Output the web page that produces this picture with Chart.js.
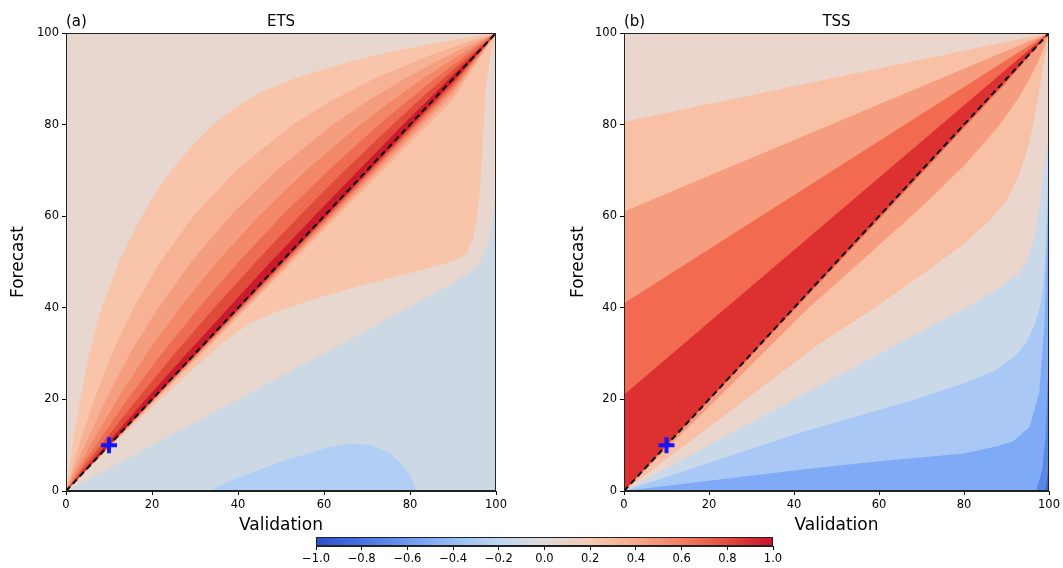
<!DOCTYPE html>
<html>
<head>
<meta charset="utf-8">
<script src="https://cdn.jsdelivr.net/npm/chart.js@4.4.0/dist/chart.umd.min.js"></script>
<style>
  body { margin: 0; background: #fff; }
  #wrap { position: relative; width: 1063px; height: 568px; overflow: hidden; }
  canvas { position: absolute; }
</style>
</head>
<body>
<div id="wrap">
  <canvas id="ets" width="520" height="538" style="left:0;top:0"></canvas>
  <canvas id="tss" width="503" height="538" style="left:560px;top:0"></canvas>
  <canvas id="cbar" width="490" height="38" style="left:300px;top:530px"></canvas>
</div>
<script>
// contour edges, as [validation, forecast] pairs
const axisTicks = [0, 20, 40, 60, 80, 100];
const cbarTicks = [-1, -0.8, -0.6, -0.4, -0.2, 0, 0.2, 0.4, 0.6, 0.8, 1];
const marker = [10, 10];

// ETS: edges above the diagonal, outermost first
const etsUpper = [
  [[0,0],[0.7,5],[1.5,10],[3.3,20],[5.4,30],[8.3,40],[12.3,50],[17.6,60],[20.8,65],[24.5,70],[28.9,75],[34.2,80],[39.8,84],[45,87],[53,90],[59.5,92],[67,94],[76,96],[87,98],[100,100]],
  [[0,0],[1.45,5],[3,10],[6.6,20],[10.7,30],[15.7,40],[21.9,50],[29.6,60],[39.5,70],[52.8,80],[61.3,85],[71.6,90],[84.2,95],[93.2,98],[100,100]],
  [[0,0],[2.1,5],[4.4,10],[9.3,20],[14.9,30],[21.5,40],[29.1,50],[38.1,60],[48.9,70],[62.1,80],[69.9,85],[78.7,90],[88.6,95],[95.3,98],[100,100]],
  [[0,0],[2.8,5],[5.7,10],[11.9,20],[18.8,30],[26.5,40],[35.1,50],[44.8,60],[55.8,70],[68.4,80],[75.4,85],[82.9,90],[91.1,95],[96.4,98],[100,100]],
  [[0,0],[3.4,5],[6.9,10],[14.3,20],[22.3,30],[30.9,40],[40.1,50],[50.1,60],[61,70],[72.8,80],[79.2,85],[85.8,90],[92.7,95],[97,98],[100,100]],
  [[0,0],[4,5],[8.1,10],[16.5,20],[25.3,30],[34.5,40],[44.1,50],[54.2,60],[64.8,70],[76,80],[81.7,85],[87.7,90],[93.8,95],[97.5,98],[100,100]],
  [[0,0],[4.6,5],[9.2,10],[18.5,20],[28.1,30],[37.8,40],[47.6,50],[57.7,60],[68,70],[78.4,80],[83.8,85],[89.1,90],[94.5,95],[97.8,98],[100,100]]
];
// ETS: edges below the diagonal, same order
const etsLower = [
  [[0,0],[10,9.3],[20,18.3],[30,27],[37,32.8],[42.8,36.6],[50,39.5],[60,42.6],[70,45.2],[80,47.6],[87,49.3],[91,50.5],[93.3,52],[94.6,55],[95.5,59],[96.2,65],[96.7,72],[97.1,80],[97.6,88],[98.5,94],[100,100]],
  [[0,0],[30,28.5],[60,57],[90,85.5],[100,100]],
  [[0,0],[30,28.9],[60,57.7],[90,86.6],[100,100]],
  [[0,0],[30,29.2],[60,58.3],[90,87.5],[100,100]],
  [[0,0],[30,29.4],[60,58.8],[90,88.2],[100,100]],
  [[0,0],[30,29.6],[60,59.2],[90,88.8],[100,100]],
  [[0,0],[30,29.8],[60,59.6],[90,89.4],[100,100]]
];
const etsZero = [[0,0],[20,10],[42.8,21.4],[68.4,34.3],[85,42.8],[90,45.4],[93.5,47.5],[96,49.8],[97.6,52.5],[98.6,56],[99.3,60],[99.7,63],[100,66.5],[100,0]];
const etsLow = [[33.5,0],[38,2.2],[42.8,3.9],[50,6.4],[60,9.3],[66,10.4],[71,10],[75,8.4],[78,6],[80.3,3],[81.5,0]];

// TSS: left-edge start of the straight edges above the diagonal (0.2, 0.4, 0.6, 0.8)
const tssUpperStart = [80.6, 61, 41, 21];
const tssLower = [
  [[0,0],[20,14],[45.7,32],[59,40],[69,46.5],[80,54],[86,59],[90,63.5],[93,69],[95,75],[96.5,81],[97.8,88],[98.9,94],[100,100]],
  [[0,0],[20,18.4],[43.5,40],[55,49.5],[70,62],[80,71],[88,79.5],[93,86],[96.5,92],[98.5,96],[100,100]],
  [[0,0],[30,29.6],[60,59.3],[90,89.2],[100,100]],
  [[0,0],[30,29.9],[60,59.8],[90,89.7],[100,100]]
];
// TSS: negative edges (0, -0.2, -0.4, -0.6, -0.8)
const tssNegative = [
  [[0,0],[45.7,22.8],[80.8,40.2],[86,43],[90,45.5],[93,47.5],[95,50.5],[96.5,55],[97.6,61],[98.4,67],[99,72],[99.5,75],[100,77],[100,0]],
  [[0,0],[41,12.6],[68.2,19.9],[80,23.5],[87.6,26.4],[92,29.5],[94.6,32.3],[96.5,36],[97.7,39.5],[98.5,44],[99,50],[99.4,60],[99.7,67],[100,74],[100,0]],
  [[0,0],[41,4.6],[60,6.5],[79.9,8.2],[88,9.8],[91.5,10.8],[95.4,14],[97.7,21.4],[98.9,35.9],[99.3,46.8],[99.7,60],[100,70],[100,0]],
  [[97,0],[98.5,5],[99.2,12],[99.6,22],[100,30],[100,0]],
  [[99.2,0],[99.7,4],[100,10],[100,0]]
];

const etsBg = '#e8d7cf';
const etsColors = ['#f8c5ab', '#f7b295', '#f59d7f', '#f38868', '#ee6c51', '#df4a3a', '#cb1a2c'];
const etsNegColors = ['#ccd9e4', '#b1cff4'];
const tssBg = '#ead6cd';
const tssColors = ['#f8c0a4', '#f69d7f', '#f26a50', '#dd3030'];
const tssNegColors = ['#cad9e9', '#a9c8f6', '#7eaaf6', '#5a86e6', '#3e62d2'];
const cbarStops = ['#2d4fcf', '#4673e0', '#6d98f0', '#97bcf6', '#bfd5f1', '#dfdbd8',
                   '#f6c9b2', '#f7a98a', '#f27e61', '#e24c3f', '#c90f2b'];

Chart.defaults.font.family = "'DejaVu Sans', sans-serif";
Chart.defaults.color = '#000';

function toXY(arr) {
  return arr.map(p => ({ x: p[0], y: p[1] }));
}

function area(arr, color) {
  return {
    data: toXY(arr), showLine: true, fill: 'shape',
    backgroundColor: color, borderColor: 'rgba(0,0,0,0)', borderWidth: 0,
    pointRadius: 0
  };
}

function lens(up, low) {
  return up.concat(low.slice(1, -1).reverse());
}

function overlays() {
  return [
    { data: toXY([[0,0],[100,100]]), showLine: true, fill: false,
      borderColor: '#000', borderWidth: 2, borderDash: [6, 4], pointRadius: 0 },
    { data: toXY([marker]), showLine: false, pointStyle: 'cross',
      pointRadius: 8, pointBorderWidth: 4, pointBorderColor: '#1414ff' }
  ];
}

// first dataset at the bottom
function stack(list) {
  list.forEach((d, i) => { d.order = -i; });
  return list;
}

let etsSets = etsColors.map((c, i) => area(lens(etsUpper[i], etsLower[i]), c));
etsSets.push(area(etsZero, etsNegColors[0]));
etsSets.push(area(etsLow, etsNegColors[1]));
etsSets = stack(etsSets.concat(overlays()));

let tssSets = tssColors.map((c, i) =>
  area([[0,0],[0,tssUpperStart[i]]].concat(tssLower[i].slice().reverse().slice(0, -1)), c));
tssNegColors.forEach((c, i) => tssSets.push(area(tssNegative[i], c)));
tssSets = stack(tssSets.concat(overlays()));

const deco = {
  id: 'deco',
  beforeDatasetsDraw(chart, args, opts) {
    const { ctx, chartArea: a } = chart;
    ctx.save();
    ctx.fillStyle = opts.bg;
    ctx.fillRect(a.left, a.top, a.width, a.height);
    ctx.restore();
  },
  afterDraw(chart, args, opts) {
    const { ctx, chartArea: a } = chart;
    ctx.save();
    ctx.strokeStyle = '#222';
    ctx.lineWidth = 1;
    ctx.strokeRect(a.left + 0.5, a.top + 0.5, a.width - 1, a.height - 1);
    ctx.fillStyle = '#000';
    ctx.font = "15px 'DejaVu Sans'";
    ctx.textAlign = 'left';
    ctx.fillText(opts.letter, a.left, 26);
    ctx.textAlign = 'center';
    ctx.fillText(opts.name, (a.left + a.right) / 2, 26);
    ctx.restore();
  }
};

function axis(label, fit) {
  return {
    type: 'linear', min: 0, max: 100,
    afterBuildTicks: s => { s.ticks = axisTicks.map(v => ({ value: v })); },
    ticks: { font: { size: 11.5 }, padding: 3, color: '#000' },
    grid: { display: true, drawOnChartArea: false, drawTicks: true, tickLength: 4, color: '#000' },
    border: { display: true, color: '#222' },
    title: { display: true, text: label, font: { size: 17 }, color: '#000', padding: { top: 2, bottom: 2 } },
    afterFit: fit
  };
}

function panel(id, letter, name, sets, bg, yWidth, padRight) {
  return new Chart(document.getElementById(id), {
    type: 'scatter',
    data: { datasets: sets },
    options: {
      responsive: false, animation: false, devicePixelRatio: 1,
      layout: { padding: { left: 6, top: 33, right: padRight, bottom: 0 } },
      plugins: {
        legend: { display: false }, tooltip: { enabled: false },
        deco: { letter, name, bg }
      },
      scales: {
        x: axis('Validation', s => { s.height = 47; }),
        y: axis('Forecast', s => { s.width = yWidth; })
      }
    },
    plugins: [deco]
  });
}

panel('ets', '(a)', 'ETS', etsSets, etsBg, 60, 24);
panel('tss', '(b)', 'TSS', tssSets, tssBg, 58, 10);

const ramp = {
  id: 'ramp',
  beforeDatasetsDraw(chart) {
    const { ctx, chartArea: a } = chart;
    const g = ctx.createLinearGradient(a.left, 0, a.right, 0);
    cbarStops.forEach((c, i) => g.addColorStop(i / (cbarStops.length - 1), c));
    ctx.save();
    ctx.fillStyle = g;
    ctx.fillRect(a.left, a.top, a.width, a.height);
    ctx.strokeStyle = '#222';
    ctx.lineWidth = 1;
    ctx.strokeRect(a.left + 0.5, a.top + 0.5, a.width - 1, a.height - 1);
    ctx.restore();
  }
};

new Chart(document.getElementById('cbar'), {
  type: 'scatter',
  data: { datasets: [] },
  options: {
    responsive: false, animation: false, devicePixelRatio: 1,
    layout: { padding: { left: 16, right: 17, top: 7, bottom: 0 } },
    plugins: { legend: { display: false }, tooltip: { enabled: false } },
    scales: {
      x: {
        type: 'linear', min: -1, max: 1,
        afterBuildTicks: s => { s.ticks = cbarTicks.map(v => ({ value: v })); },
        ticks: {
          font: { size: 11.5 }, padding: 2, color: '#000',
          callback: v => (Math.abs(v) < 1e-9 ? '0.0' : v.toFixed(1)).replace('-', '\u2212')
        },
        grid: { display: true, drawOnChartArea: false, tickLength: 4, color: '#000' },
        border: { display: true, color: '#222' },
        afterFit: s => { s.height = 22; }
      },
      y: { display: false }
    }
  },
  plugins: [ramp]
});
</script>
</body>
</html>
